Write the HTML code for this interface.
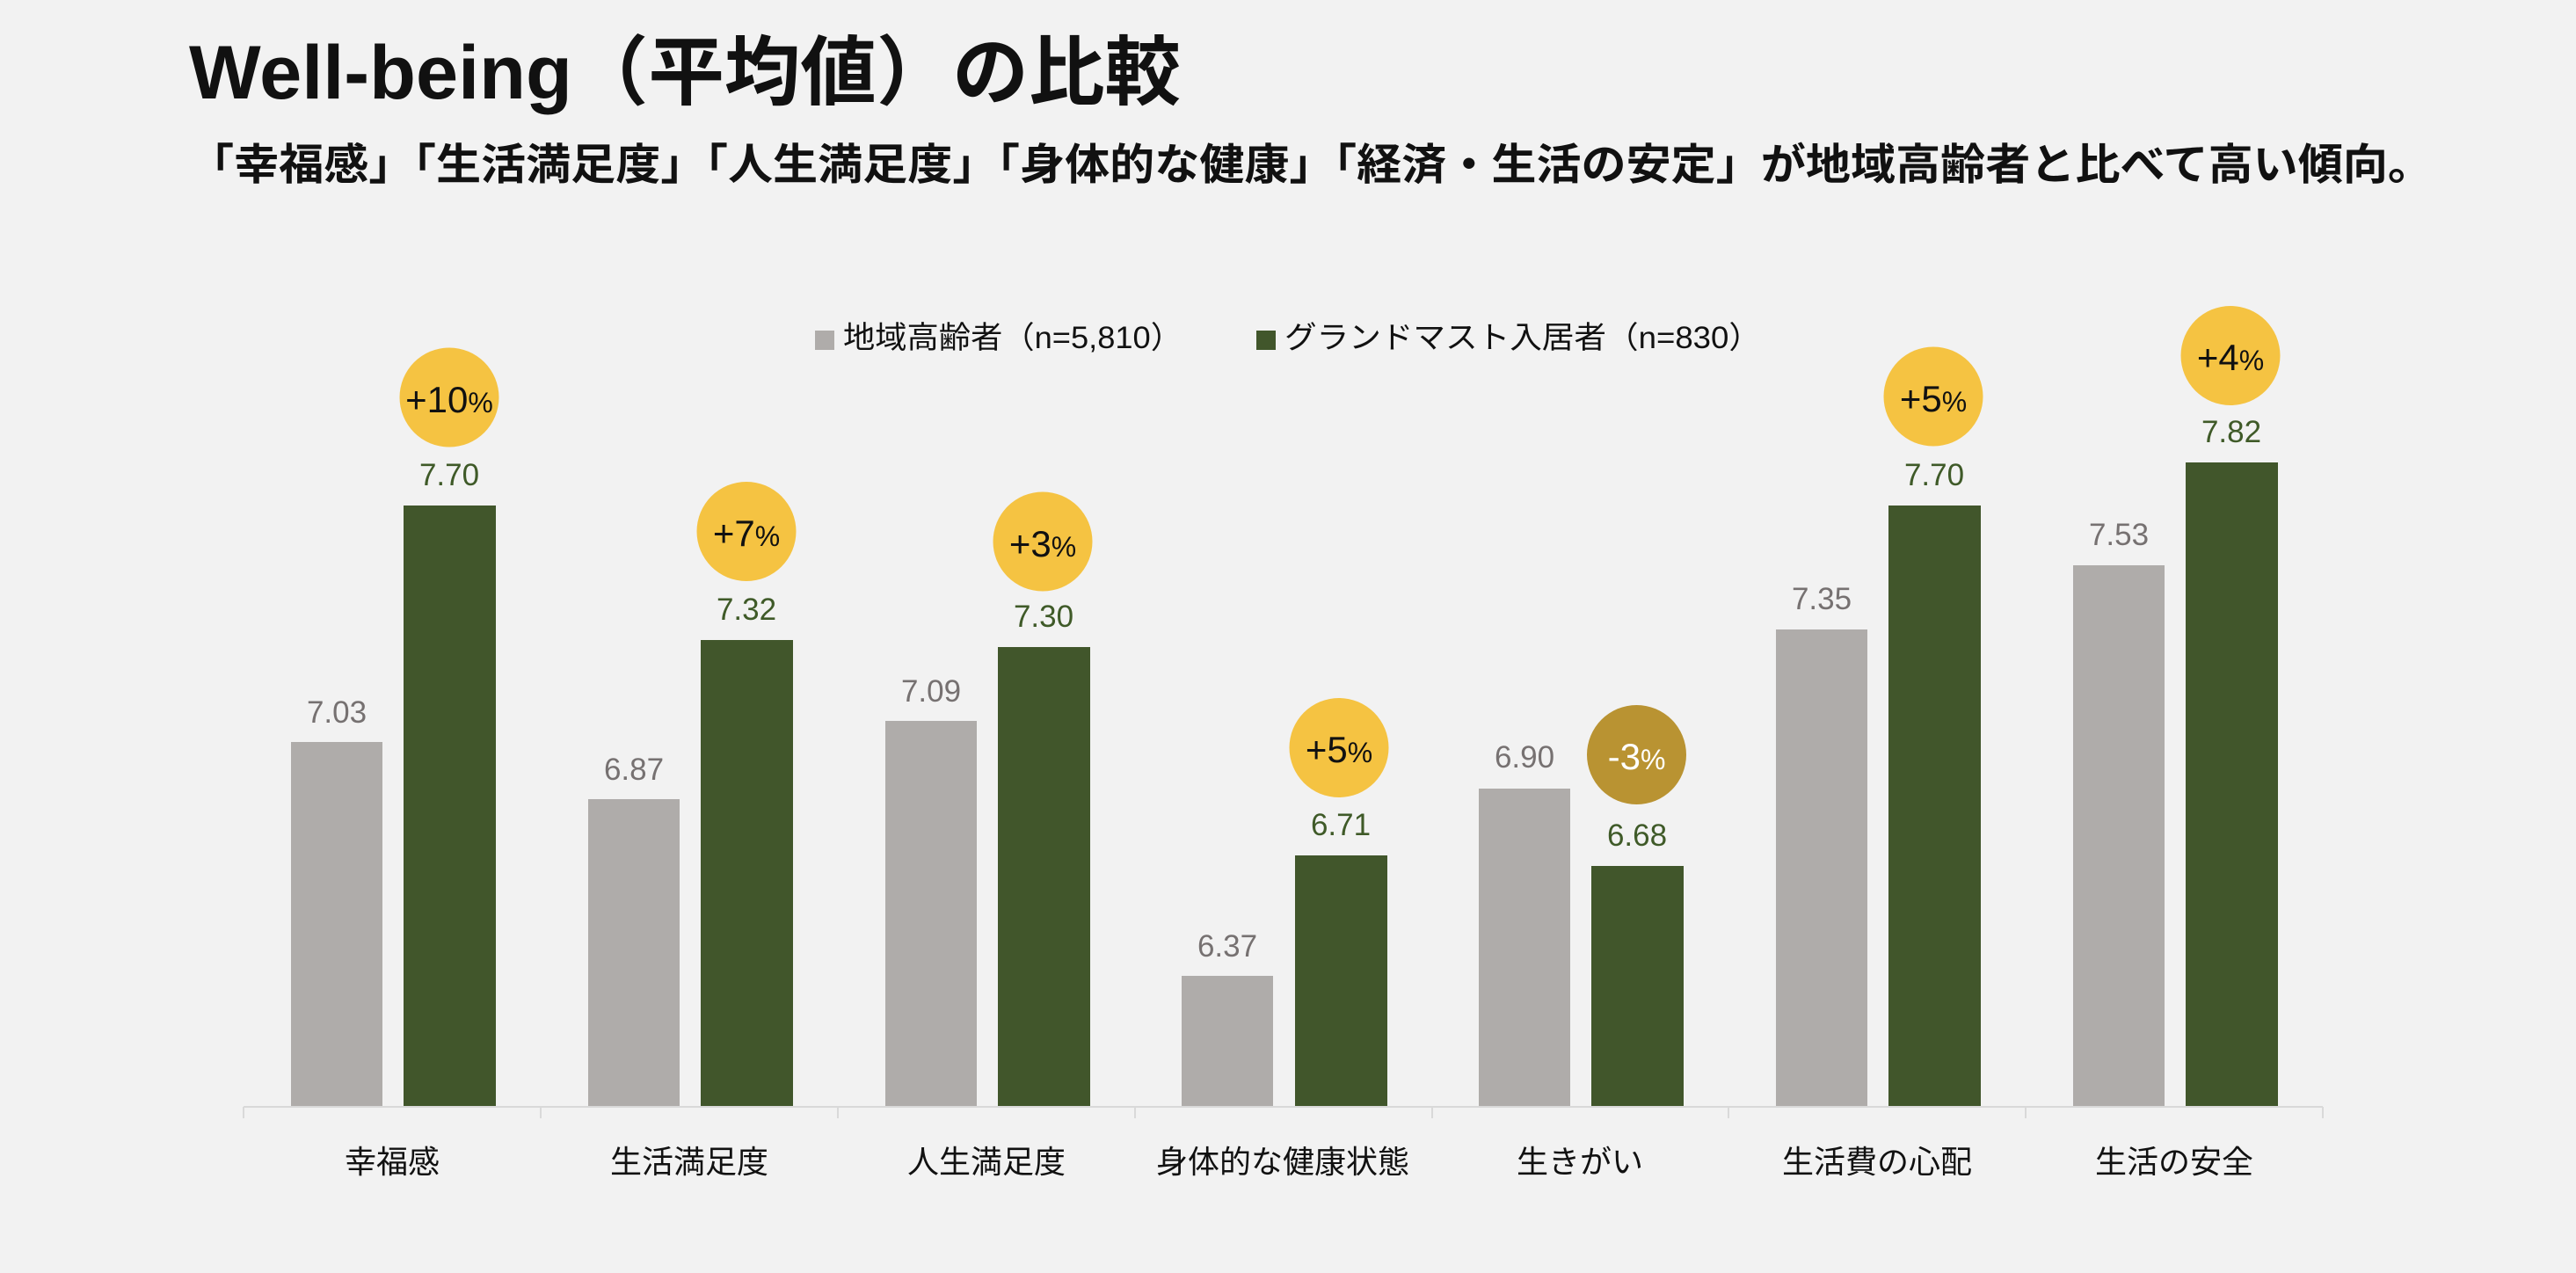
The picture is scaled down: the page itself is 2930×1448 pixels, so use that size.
<!DOCTYPE html>
<html><head><meta charset="utf-8"><style>
html,body{margin:0;padding:0;background:#f2f2f2;}
svg{display:block;}
</style></head><body>
<svg width="2930" height="1448" viewBox="0 0 2930 1448" xmlns="http://www.w3.org/2000/svg">
<rect width="2930" height="1448" fill="#f2f2f2"/>
<text x="215" y="112" font-family="Liberation Sans, Noto Sans CJK JP, sans-serif" font-weight="bold" font-size="86" fill="#111" textLength="1128" lengthAdjust="spacingAndGlyphs">Well-being（平均値）の比較</text>
<text x="215" y="204" font-family="Liberation Sans, Noto Sans CJK JP, sans-serif" font-weight="bold" font-size="49" fill="#111" textLength="2552" lengthAdjust="spacingAndGlyphs">「幸福感」「生活満足度」「人生満足度」「身体的な健康」「経済・生活の安定」が地域高齢者と比べて高い傾向。</text>

<rect x="927" y="376" width="22" height="22" fill="#afacaa"/>
<text x="959" y="396" font-family="Liberation Sans, Noto Sans CJK JP, sans-serif" font-size="35" fill="#111" textLength="386" lengthAdjust="spacingAndGlyphs">地域高齢者（n=5,810）</text>
<rect x="1429" y="376" width="22" height="22" fill="#41562b"/>
<text x="1461" y="396" font-family="Liberation Sans, Noto Sans CJK JP, sans-serif" font-size="35" fill="#111" textLength="542" lengthAdjust="spacingAndGlyphs">グランドマスト入居者（n=830）</text>

<g fill="#afacaa">
<rect x="331" y="844" width="104" height="415"/>
<rect x="669" y="909" width="104" height="350"/>
<rect x="1007" y="820" width="104" height="439"/>
<rect x="1344" y="1110" width="104" height="149"/>
<rect x="1682" y="897" width="104" height="362"/>
<rect x="2020" y="716" width="104" height="543"/>
<rect x="2358" y="643" width="104" height="616"/>
</g>
<g fill="#41562b">
<rect x="459" y="575" width="105" height="684"/>
<rect x="797" y="728" width="105" height="531"/>
<rect x="1135" y="736" width="105" height="523"/>
<rect x="1473" y="973" width="105" height="286"/>
<rect x="1810" y="985" width="105" height="274"/>
<rect x="2148" y="575" width="105" height="684"/>
<rect x="2486" y="526" width="105" height="733"/>
</g>

<line x1="277" y1="1259" x2="2642" y2="1259" stroke="#d9d9d9" stroke-width="2"/>
<g stroke="#d9d9d9" stroke-width="2">
<line x1="277" y1="1259" x2="277" y2="1272"/>
<line x1="615" y1="1259" x2="615" y2="1272"/>
<line x1="953" y1="1259" x2="953" y2="1272"/>
<line x1="1291" y1="1259" x2="1291" y2="1272"/>
<line x1="1629" y1="1259" x2="1629" y2="1272"/>
<line x1="1966" y1="1259" x2="1966" y2="1272"/>
<line x1="2304" y1="1259" x2="2304" y2="1272"/>
<line x1="2642" y1="1259" x2="2642" y2="1272"/>
</g>

<g font-family="Liberation Sans, sans-serif" font-size="35" text-anchor="middle" fill="#767171">
<text x="383" y="822">7.03</text>
<text x="721" y="887">6.87</text>
<text x="1059" y="798">7.09</text>
<text x="1396" y="1088">6.37</text>
<text x="1734" y="873">6.90</text>
<text x="2072" y="693">7.35</text>
<text x="2410" y="620">7.53</text>
</g>
<g font-family="Liberation Sans, sans-serif" font-size="35" text-anchor="middle" fill="#3f5a28">
<text x="511" y="552">7.70</text>
<text x="849" y="705">7.32</text>
<text x="1187" y="713">7.30</text>
<text x="1525" y="950">6.71</text>
<text x="1862" y="962">6.68</text>
<text x="2200" y="552">7.70</text>
<text x="2538" y="503">7.82</text>
</g>

<g fill="#f5c342">
<circle cx="511" cy="452" r="56.5"/>
<circle cx="849" cy="604.5" r="56.5"/>
<circle cx="1186" cy="616" r="56.5"/>
<circle cx="1523" cy="850.5" r="56.5"/>
<circle cx="2199" cy="451" r="56.5"/>
<circle cx="2537" cy="404.5" r="56.5"/>
</g>
<circle cx="1861.5" cy="858.5" r="56.5" fill="#b99332"/>

<g font-family="Liberation Sans, sans-serif" font-size="42" text-anchor="middle" fill="#111">
<text x="511" y="469">+10<tspan font-size="32">%</tspan></text>
<text x="849" y="621">+7<tspan font-size="32">%</tspan></text>
<text x="1186" y="633">+3<tspan font-size="32">%</tspan></text>
<text x="1523" y="867">+5<tspan font-size="32">%</tspan></text>
<text x="2199" y="468">+5<tspan font-size="32">%</tspan></text>
<text x="2537" y="421">+4<tspan font-size="32">%</tspan></text>
<text x="1861.5" y="875" fill="#ffffff">-3<tspan font-size="32">%</tspan></text>
</g>

<g font-family="Liberation Sans, Noto Sans CJK JP, sans-serif" font-size="36" text-anchor="middle" fill="#111">
<text x="446" y="1334">幸福感</text>
<text x="784" y="1334">生活満足度</text>
<text x="1122" y="1334">人生満足度</text>
<text x="1459" y="1334">身体的な健康状態</text>
<text x="1797" y="1334">生きがい</text>
<text x="2135" y="1334">生活費の心配</text>
<text x="2473" y="1334">生活の安全</text>
</g>
</svg>
</body></html>
